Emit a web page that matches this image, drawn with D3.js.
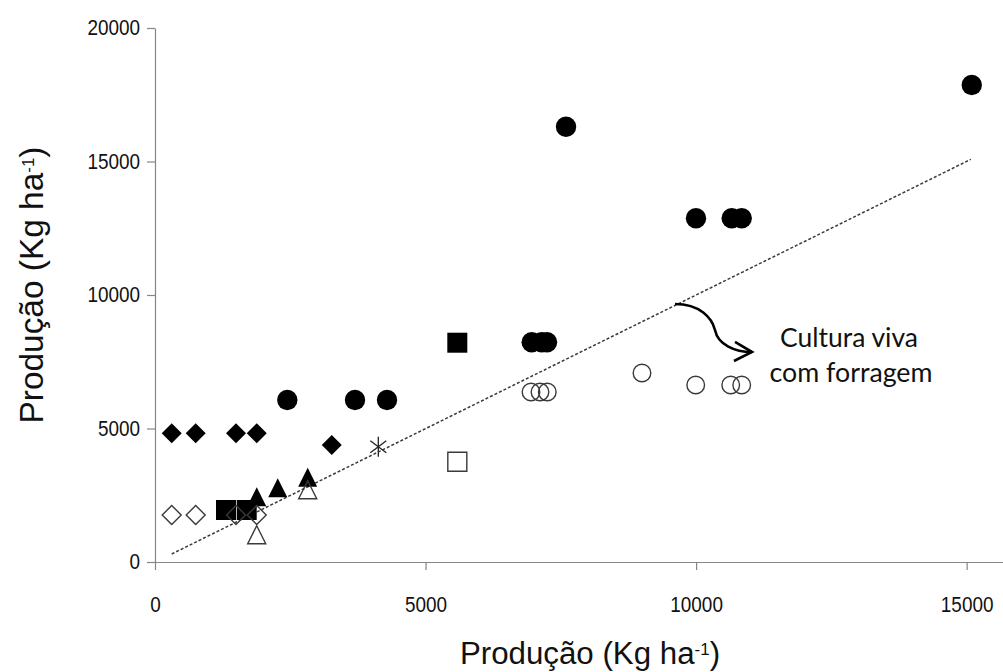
<!DOCTYPE html>
<html>
<head>
<meta charset="utf-8">
<script src="https://cdn.jsdelivr.net/npm/d3@7"></script>
<style>
  html, body { margin: 0; padding: 0; background: #fff; }
  svg { display: block; }
</style>
</head>
<body>
<svg id="chart" width="1003" height="672"></svg>
<script>
// ---------------- DATA ----------------
const xTicks = [0, 5000, 10000, 15000];
const yTicks = [0, 5000, 10000, 15000, 20000];
const xTitle = "Produção (Kg ha";
const yTitle = "Produção (Kg ha";
const annotationLines = ["Cultura viva", "com forragem"];

// series: [x, y]
const filledCircles = [[2445, 6067], [3696, 6067], [4288, 6067], [6962, 8228], [7147, 8228], [7245, 8228],
                       [7596, 16303], [9998, 12873], [10658, 12873], [10843, 12873], [15094, 17865]];
const openCircles   = [[6949, 6367], [7115, 6367], [7250, 6367], [9000, 7079], [9993, 6629], [10640, 6629], [10843, 6629]];
const filledSquares = [[1312, 1948], [1695, 1948], [5587, 8213]];
const openSquares   = [[5587, 3757]];
const filledDiamonds = [[309, 4820], [752, 4820], [1497, 4820], [1880, 4820], [3266, 4382]];
const openDiamonds   = [[309, 1760], [752, 1760], [1497, 1760], [1880, 1760]];
const filledTriangles = [[1880, 2408], [2268, 2745], [2822, 3135]];
const openTriangles   = [[1880, 985], [2822, 2670]];
const stars = [[4127, 4318]];
const trendX = [309, 15078];
const trendY = [300, 15082];
// annotation arrow in data units
const arrowCurve = [[9610, 9663], [10072, 9663], [10294, 9139], [10349, 8689], [10405, 8127], [10719, 7865], [11033, 7865]];
const arrowHead = [[10719, 8240], [11033, 7865], [10700, 7528]];
const annotationPos = [[12826, 8052], [12863, 6742]];

// ---------------- LAYOUT ----------------
const svg = d3.select("#chart");
const x = d3.scaleLinear().domain([0, 16000]).range([155, 155 + 16 * 54.11]);
const y = d3.scaleLinear().domain([0, 20000]).range([562, 28]);
const axisColor = "#868686";
const font = "'Liberation Sans', Arial, sans-serif";
const squeeze = 0.88;

// axes
const gx = svg.append("g").attr("transform", `translate(0,${y(0)})`)
  .call(d3.axisBottom(x).tickValues(xTicks).tickSize(8).tickSizeOuter(0).tickPadding(27).tickFormat(d3.format("d")));
const gy = svg.append("g").attr("transform", `translate(${x(0)},0)`)
  .call(d3.axisLeft(y).tickValues(yTicks).tickSize(8).tickSizeOuter(0).tickPadding(9).tickFormat(d3.format("d")));
[gx, gy].forEach(g => {
  g.select(".domain").attr("stroke", axisColor).attr("stroke-width", 1.2);
  g.selectAll(".tick line").attr("stroke", axisColor).attr("stroke-width", 1.2);
  g.selectAll(".tick text").attr("fill", "#111").style("font-family", font).style("font-size", "21.5px")
    .attr("transform", `scale(${squeeze},1)`);
});

// trend line
svg.append("line")
  .attr("x1", x(trendX[0])).attr("y1", y(trendY[0]))
  .attr("x2", x(trendX[1])).attr("y2", y(trendY[1]))
  .attr("stroke", "#3a3a3a").attr("stroke-width", 1.5).attr("stroke-dasharray", "3,2");

// custom symbols
const symDiamond = { draw(c, r) { c.moveTo(0, -r); c.lineTo(r, 0); c.lineTo(0, r); c.lineTo(-r, 0); c.closePath(); } };
const symSquare = { draw(c, r) { c.rect(-r, -r, 2 * r, 2 * r); } };
const symTriangle = { draw(c, r) { c.moveTo(0, -r * 1.05); c.lineTo(r * 0.95, r * 0.85); c.lineTo(-r * 0.95, r * 0.85); c.closePath(); } };
const symStar = { draw(c, r) {
  c.moveTo(0, -r); c.lineTo(0, r);
  c.moveTo(-r * 0.8, -r * 0.6); c.lineTo(r * 0.8, r * 0.6);
  c.moveTo(-r * 0.8, r * 0.6); c.lineTo(r * 0.8, -r * 0.6);
} };

function drawSymbols(data, type, r, filled) {
  svg.append("g").selectAll("path").data(data).join("path")
    .attr("transform", d => `translate(${x(d[0])},${y(d[1])})`)
    .attr("d", d3.symbol().type(type).size(r))
    .attr("fill", filled ? "#000" : "#fff")
    .attr("fill-opacity", filled ? 1 : 0)
    .attr("stroke", filled ? "none" : "#3a3a3a")
    .attr("stroke-width", 1.4);
}
function drawCircles(data, r, filled) {
  svg.append("g").selectAll("circle").data(data).join("circle")
    .attr("cx", d => x(d[0])).attr("cy", d => y(d[1])).attr("r", r)
    .attr("fill", filled ? "#000" : "none")
    .attr("stroke", filled ? "none" : "#3a3a3a")
    .attr("stroke-width", 1.4);
}

drawCircles(openCircles, 8.8, false);
drawCircles(filledCircles, 10.2, true);
drawSymbols(openSquares, symSquare, 9.5, false);
drawSymbols(filledSquares, symSquare, 10, true);
drawSymbols(filledDiamonds, symDiamond, 10, true);
drawSymbols(filledTriangles, symTriangle, 10, true);
drawSymbols(openTriangles, symTriangle, 9.5, false);
drawSymbols(openDiamonds, symDiamond, 9.5, false);
svg.append("g").selectAll("path").data(stars).join("path")
  .attr("transform", d => `translate(${x(d[0])},${y(d[1])})`)
  .attr("d", d3.symbol().type(symStar).size(10))
  .attr("fill", "none").attr("stroke", "#222").attr("stroke-width", 1.3);

// annotation arrow
const curvePts = arrowCurve.map(p => [x(p[0]), y(p[1])]);
const ap = d3.path();
ap.moveTo(...curvePts[0]);
ap.bezierCurveTo(...curvePts[1], ...curvePts[2], ...curvePts[3]);
ap.bezierCurveTo(...curvePts[4], ...curvePts[5], ...curvePts[6]);
svg.append("path").attr("d", ap.toString()).attr("fill", "none").attr("stroke", "#000").attr("stroke-width", 2.6);
svg.append("path").attr("d", d3.line()(arrowHead.map(p => [x(p[0]), y(p[1])])))
  .attr("fill", "none").attr("stroke", "#000").attr("stroke-width", 2.6).attr("stroke-linejoin", "miter");

function fitFont(sel, target) {
  const w = sel.node().getComputedTextLength();
  const fs = parseFloat(sel.style("font-size"));
  sel.style("font-size", (fs * target / w) + "px");
}
const annoWidths = [138, 163];
annotationLines.forEach((t, i) => {
  const tx = svg.append("text")
    .attr("x", x(annotationPos[i][0])).attr("y", y(annotationPos[i][1]))
    .attr("text-anchor", "middle").attr("fill", "#111")
    .style("font-family", "Lato, 'Open Sans', sans-serif").style("font-size", "24px")
    .text(t);
  fitFont(tx, annoWidths[i]);
});

// axis titles
function title(g, text) {
  const t = g.append("text").attr("text-anchor", "middle").attr("fill", "#111")
    .style("font-family", font).style("font-size", "28px");
  t.append("tspan").text(text);
  t.append("tspan").attr("baseline-shift", "super").style("font-size", "17px").text("-1");
  t.append("tspan").text(")");
  return t;
}
const xt = title(svg.append("g").attr("transform", "translate(590,664)"), xTitle);
fitFont(xt, 262);
const yt = title(svg.append("g").attr("transform", "translate(43,285) rotate(-90)"), yTitle);
fitFont(yt, 280);
</script>
</body>
</html>
